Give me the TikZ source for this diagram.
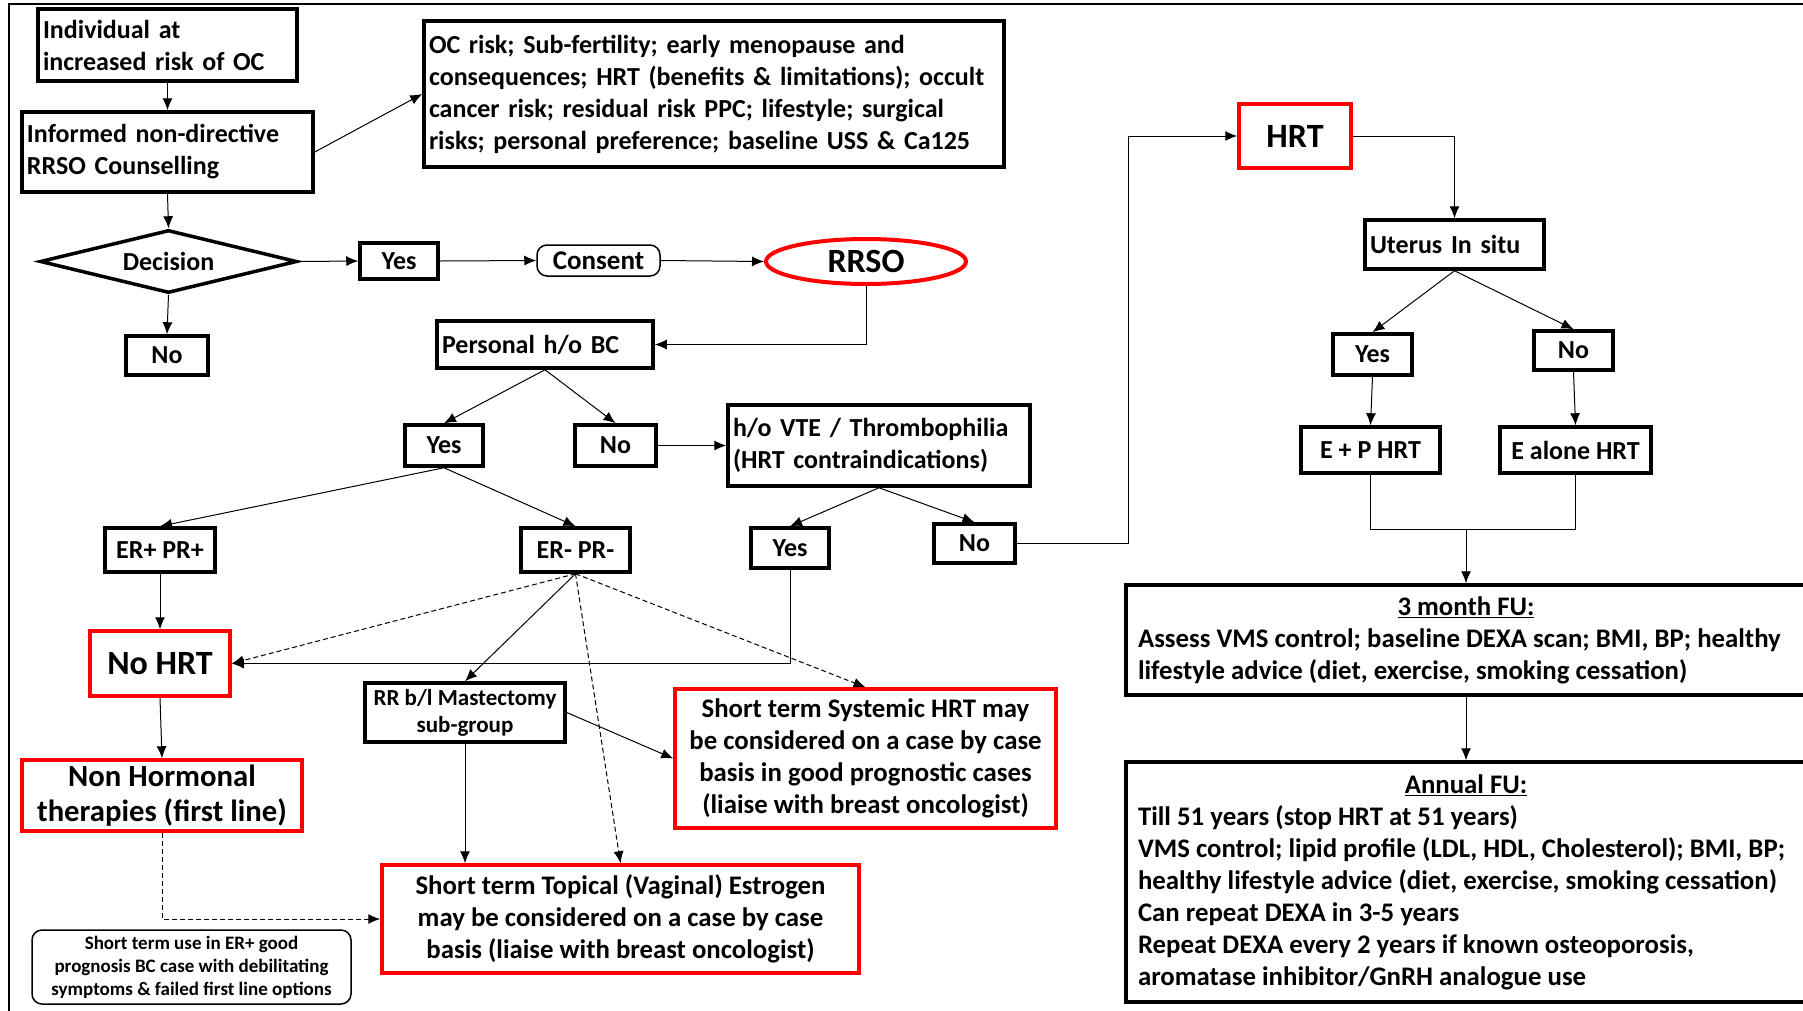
\documentclass[tikz,border=0pt]{standalone}
\usepackage{fontspec}
\setmainfont{Carlito}
\usetikzlibrary{arrows.meta,shapes.geometric}

\begin{document}
\begin{tikzpicture}[x=1pt,y=-1pt,>={Latex[length=12pt,width=10pt]},line width=1pt]
  \tikzstyle{blk}=[draw,line width=3.5pt,inner sep=5pt,font=\fontsize{26}{32}\selectfont\bfseries]
  \tikzstyle{redbox}=[blk,draw=red]
  \tikzstyle{roundbox}=[draw,line width=1.5pt,rounded corners=10pt,inner sep=4pt,font=\fontsize{27}{32}\selectfont\bfseries]
  \tikzstyle{bigtxt}=[font=\fontsize{34}{40}\selectfont\bfseries]
  \tikzstyle{widetxt}=[font=\fontsize{26.8}{32}\selectfont\bfseries]
  \tikzstyle{dashline}=[dash pattern=on 5pt off 3pt]

  \useasboundingbox (0,0) rectangle (1803,1010);
  \draw [line width=2pt] (9,4) rectangle (1900,1100);

  % left column
  \node [blk,minimum height=72pt,text width=249pt,align=left] (indiv) at (167.5,45) {Individual at\\increased risk of OC};
  \node [blk,minimum height=80pt,text width=281pt,align=left] (counsel) at (167.5,152) {Informed non-directive\\RRSO Counselling};
  \node [blk,minimum height=146pt,text width=570pt,align=left] (ocrisk) at (714,94) {OC risk; Sub-fertility; early menopause and\\consequences; HRT (benefits \& limitations); occult\\cancer risk; residual risk PPC; lifestyle; surgical\\risks; personal preference; baseline USS \& Ca125};
  \node [blk,diamond,aspect=4,minimum width=257pt,minimum height=63pt,inner sep=0pt] (decide) at (168.5,261.5) {Decision};
  \node [blk,minimum width=78pt,minimum height=36pt] (yesA) at (399,261) {Yes};
  \node [roundbox,minimum width=123pt,minimum height=31pt] (consent) at (598.5,260.5) {Consent};
  \node [ellipse,draw=red,line width=4pt,minimum width=200pt,minimum height=45pt,inner sep=0pt,bigtxt] (rrso) at (866,261.5) {RRSO};
  \node [blk,minimum width=82pt,minimum height=39pt] (noA) at (167,355.5) {No};

  % breast cancer branch
  \node [blk,minimum height=47pt,text width=206pt,align=left] (pbc) at (545,344.5) {Personal h/o BC};
  \node [blk,minimum width=78pt,minimum height=41pt] (yesB) at (444,445.5) {Yes};
  \node [blk,minimum width=81pt,minimum height=41pt] (noB) at (615.5,445.5) {No};
  \node [blk,minimum height=81pt,text width=292pt,align=left] (vte) at (879,445.5) {h/o VTE / Thrombophilia\\(HRT contraindications)};
  \node [blk,minimum width=110pt,minimum height=44pt] (erpos) at (160,550) {ER+ PR+};
  \node [blk,minimum width=109pt,minimum height=44pt] (erneg) at (575.5,550) {ER- PR-};
  \node [blk,minimum width=78pt,minimum height=40pt] (yesC) at (790,548) {Yes};
  \node [blk,minimum width=81pt,minimum height=39pt] (noC) at (974.5,543.5) {No};
  \node [redbox,minimum width=140pt,minimum height=65pt,bigtxt] (nohrt) at (160,663.5) {No HRT};
  \node [blk,minimum width=200pt,minimum height=59pt,align=center,inner sep=2pt,font=\fontsize{23}{27}\selectfont\bfseries] (mast) at (465,712.5) {RR b/l Mastectomy\\sub-group};
  \node [redbox,minimum width=381pt,minimum height=139pt,align=center,widetxt] (systemic) at (865.5,758.5) {Short term Systemic HRT may\\be considered on a case by case\\basis in good prognostic cases\\(liaise with breast oncologist)};
  \node [redbox,minimum width=280pt,minimum height=71pt,align=center,inner sep=2pt,font=\fontsize{30.7}{35}\selectfont\bfseries] (nonhorm) at (162,795.5) {Non Hormonal\\therapies (first line)};
  \node [redbox,minimum width=477pt,minimum height=108pt,align=center,widetxt] (topical) at (620.5,919) {Short term Topical (Vaginal) Estrogen\\may be considered on a case by case\\basis (liaise with breast oncologist)};
  \node [roundbox,minimum width=319pt,minimum height=74pt,align=center,font=\fontsize{19}{23}\selectfont\bfseries] (note) at (191.5,967) {Short term use in ER+ good\\prognosis BC case with debilitating\\symptoms \& failed first line options};

  % HRT branch
  \node [redbox,minimum width=112pt,minimum height=64pt,bigtxt] (hrt) at (1295,136) {HRT};
  \node [blk,minimum height=49pt,text width=169pt,align=left] (uterus) at (1454.5,244.5) {Uterus In situ};
  \node [blk,minimum width=79pt,minimum height=41pt] (yesD) at (1372.5,354.5) {Yes};
  \node [blk,minimum width=79pt,minimum height=39pt] (noD) at (1573.5,350.5) {No};
  \node [blk,minimum width=139pt,minimum height=46pt] (ephrt) at (1370.5,450) {E + P HRT};
  \node [blk,minimum width=151pt,minimum height=46pt] (ealone) at (1575.5,450) {E alone HRT};
  \node [blk,minimum width=680pt,minimum height=110pt,align=center,widetxt] (fuA) at (1466,640) {\underline{3 month FU:}\\
    \makebox[656pt][l]{Assess VMS control; baseline DEXA scan; BMI, BP; healthy}\\
    \makebox[656pt][l]{lifestyle advice (diet, exercise, smoking cessation)}};
  \node [blk,minimum width=680pt,minimum height=240pt,align=center,widetxt] (fuB) at (1466,882) {\underline{Annual FU:}\\
    \makebox[656pt][l]{Till 51 years (stop HRT at 51 years)}\\
    \makebox[656pt][l]{VMS control; lipid profile (LDL, HDL, Cholesterol); BMI, BP;}\\
    \makebox[656pt][l]{healthy lifestyle advice (diet, exercise, smoking cessation)}\\
    \makebox[656pt][l]{Can repeat DEXA in 3-5 years}\\
    \makebox[656pt][l]{Repeat DEXA every 2 years if known osteoporosis,}\\
    \makebox[656pt][l]{aromatase inhibitor/GnRH analogue use}};
  \coordinate (merge) at (1466,529);

  \draw [->] (indiv.south) to (counsel.north);
  \draw [->] (counsel.east) to (ocrisk.west);
  \draw [->] (counsel.south) to (decide.north);
  \draw [->] (decide.east) to (yesA.west);
  \draw [->] (yesA.east) to (consent.west);
  \draw [->] (consent.east) to (rrso.west);
  \draw [->] (decide.south) to (noA.north);
  \draw [->] (rrso.south) |- (pbc.east);
  \draw [->] (pbc.south) to (yesB.north);
  \draw [->] (pbc.south) to (noB.north);
  \draw [->] (noB.east) to (vte.west);
  \draw [->] (yesB.south) to (erpos.north);
  \draw [->] (yesB.south) to (erneg.north);
  \draw [->] (vte.south) to (yesC.north);
  \draw [->] (vte.south) to (noC.north);
  \draw [->] (noC.east) -- ++(112,0) |- (hrt.west);
  \draw [->] (hrt.east) -| (uterus.north);
  \draw [->] (uterus.south) to (yesD.north);
  \draw [->] (uterus.south) to (noD.north);
  \draw [->] (yesD.south) to (ephrt.north);
  \draw [->] (noD.south) to (ealone.north);
  \draw (ephrt.south) |- (merge) -| (ealone.south);
  \draw [->] (merge) to (fuA.north);
  \draw [->] (fuA.south) to (fuB.north);
  \draw [->] (erpos.south) to (nohrt.north);
  \draw [->] (nohrt.south) to (nonhorm.north);
  \draw [->,dashline] (erneg.south) to (nohrt.east);
  \draw [->] (erneg.south) to (mast.north);
  \draw [->,dashline] (erneg.south) to (topical.north);
  \draw [->,dashline] (erneg.south) to (systemic.north);
  \draw [->] (yesC.south) |- (nohrt.east);
  \draw [->] (mast.east) to (systemic.west);
  \draw [->] (mast.south) to (mast.south |- topical.north);
  \draw [->,dashline] (nonhorm.south) |- (topical.west);
\end{tikzpicture}
\end{document}
